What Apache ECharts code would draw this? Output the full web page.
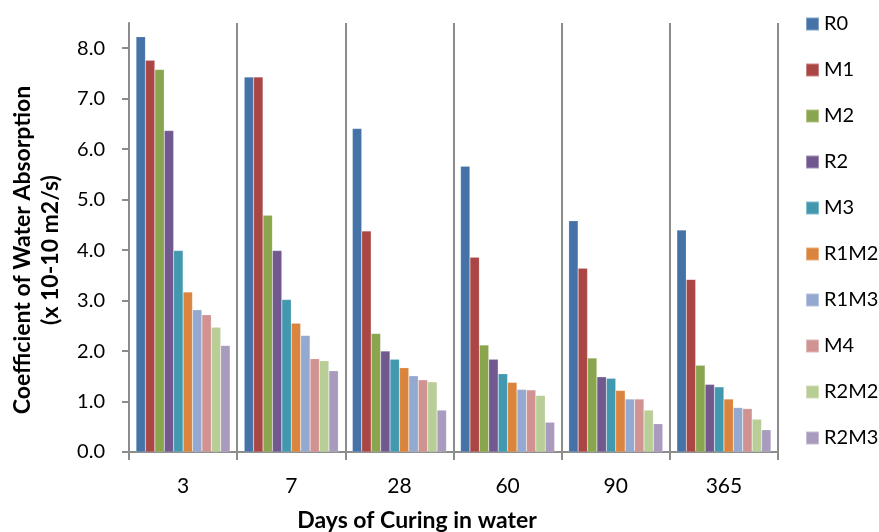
<!DOCTYPE html>
<html>
<head>
<meta charset="utf-8">
<script src="https://cdn.jsdelivr.net/npm/echarts@6/dist/echarts.min.js"></script>
<style>html,body{margin:0;padding:0;background:#fff;}#c{width:879px;height:532px;}</style>
</head>
<body>
<div id="c"></div>
<script>
const categories = ['3', '7', '28', '60', '90', '365'];
const seriesNames = ['R0', 'M1', 'M2', 'R2', 'M3', 'R1M2', 'R1M3', 'M4', 'R2M2', 'R2M3'];
const R0   = [8.23, 7.43, 6.41, 5.66, 4.58, 4.40];
const M1   = [7.76, 7.43, 4.38, 3.86, 3.64, 3.42];
const M2   = [7.58, 4.69, 2.35, 2.12, 1.86, 1.72];
const R2   = [6.37, 3.99, 2.00, 1.84, 1.49, 1.34];
const M3   = [3.99, 3.02, 1.84, 1.55, 1.46, 1.29];
const R1M2 = [3.17, 2.55, 1.67, 1.38, 1.22, 1.05];
const R1M3 = [2.82, 2.31, 1.51, 1.24, 1.05, 0.88];
const M4   = [2.72, 1.85, 1.43, 1.23, 1.05, 0.86];
const R2M2 = [2.47, 1.81, 1.39, 1.12, 0.83, 0.65];
const R2M3 = [2.11, 1.61, 0.83, 0.59, 0.56, 0.44];
const yTicks = [0, 1, 2, 3, 4, 5, 6, 7, 8];

const seriesData = [R0, M1, M2, R2, M3, R1M2, R1M3, M4, R2M2, R2M3];
const colors = ['#4572A7', '#AA4643', '#89A54E', '#71588F', '#4198AF', '#DB843D', '#93A9CF', '#D19392', '#B9CD96', '#A99BBD'];
const FONT = 'Lato';

const chart = echarts.init(document.getElementById('c'), null, {renderer: 'canvas'});
chart.setOption({
  animation: false,
  color: colors,
  textStyle: {fontFamily: FONT},
  grid: {left: 129, right: 101, top: 23, bottom: 80, containLabel: false},
  legend: {
    orient: 'vertical',
    left: 800, top: 9,
    itemWidth: 13, itemHeight: 13,
    itemGap: 26,
    icon: 'rect',
    textStyle: {fontFamily: FONT, fontSize: 20, color: '#000', lineHeight: 20},
    data: seriesNames
  },
  xAxis: {
    type: 'category',
    data: categories,
    boundaryGap: true,
    axisLine: {lineStyle: {color: '#8c8c8c', width: 2}},
    axisTick: {show: true, length: 8, lineStyle: {color: '#8c8c8c', width: 2}},
    axisLabel: {fontFamily: FONT, fontSize: 21, color: '#000', margin: 24},
    splitLine: {show: true, lineStyle: {color: '#8c8c8c', width: 2}}
  },
  yAxis: {
    type: 'value',
    min: 0, max: 8.5, interval: 1,
    axisLine: {show: true, lineStyle: {color: '#8c8c8c', width: 2}},
    axisTick: {show: true, length: 7, lineStyle: {color: '#8c8c8c', width: 2}, customValues: yTicks},
    axisLabel: {fontFamily: FONT, fontSize: 20, color: '#000', margin: 24, customValues: yTicks,
      formatter: v => Number(v).toFixed(1)},
    splitLine: {show: false}
  },
  graphic: [
    {type: 'text', x: 37, y: 250, rotation: Math.PI / 2,
      style: {text: 'Coefficient of Water Absorption\n(x 10-10 m2/s)', font: 'bold 23px ' + FONT,
        fill: '#000', align: 'center', verticalAlign: 'middle', lineHeight: 28}},
    {type: 'text', x: 417, y: 521,
      style: {text: 'Days of Curing in water', font: 'bold 23px ' + FONT,
        fill: '#000', align: 'center', verticalAlign: 'middle'}}
  ],
  series: seriesNames.map((n, i) => ({
    name: n, type: 'bar', data: seriesData[i],
    barGap: '0%', barCategoryGap: '13%',
    itemStyle: {borderColor: 'rgba(255,255,255,0.35)', borderWidth: 0.5}
  }))
});
</script>
</body>
</html>
